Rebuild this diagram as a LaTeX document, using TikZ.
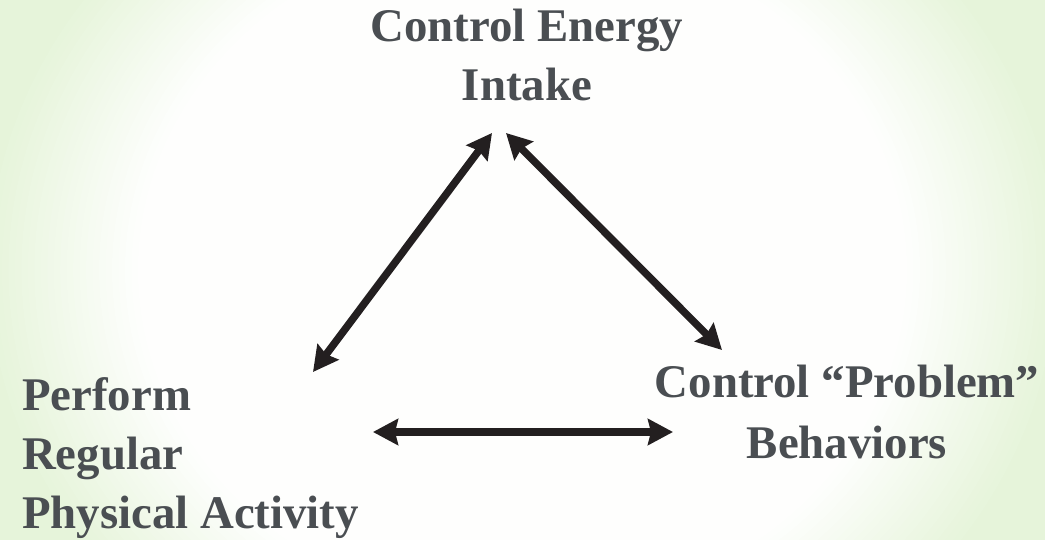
\documentclass[tikz,border=0pt]{standalone}
\usepackage{fontspec}
\setmainfont{Liberation Serif}
\usetikzlibrary{arrows.meta}
\definecolor{bggreen}{RGB}{230,244,218}
\definecolor{labelgray}{RGB}{74,78,82}
\definecolor{arrowblack}{RGB}{35,31,32}
\begin{document}
\begin{tikzpicture}[x=1pt, y=-1pt,
    goal/.style={font=\bfseries\fontsize{46.8}{59}\selectfont, text=labelgray, inner sep=0pt},
    link/.style={arrowblack, line width=7.5pt, >={Stealth[length=25pt,width=26pt,inset=3pt]}, <->}]
    % background glow
    \begin{scope}
        \clip (0,0) rectangle (1045,540);
        \fill[bggreen] (0,0) rectangle (1045,540);
        \foreach \k in {0,...,24} {
            \pgfmathsetmacro{\rr}{1-0.012*\k}
            \pgfmathsetmacro{\mix}{100-4*\k}
            \fill[bggreen!\mix!white] (522.5,270) ellipse [x radius=540*\rr, y radius=480*\rr];
        }
    \end{scope}
    \useasboundingbox (0,0) rectangle (1045,540);

    \node[goal, anchor=base, align=center] (energy) at (527,101) {Control Energy\\Intake};
    \node[goal, anchor=base west, align=left] (activity) at (22,528) {Perform\\Regular\\Physical Activity};
    \node[goal, anchor=base, align=center] (behavior) at (847,458) {Control “Problem”\\[2pt]Behaviors};

    \coordinate (energy-l) at (492,133);
    \coordinate (energy-r) at (506,133);
    \coordinate (activity-up) at (313,372);
    \coordinate (activity-rt) at (373,432);
    \coordinate (behavior-up) at (722,350);
    \coordinate (behavior-lt) at (673,432);

    \draw[link] (activity-up) -- (energy-l);
    \draw[link] (energy-r) -- (behavior-up);
    \draw[link] (activity-rt) -- (behavior-lt);
\end{tikzpicture}
\end{document}
